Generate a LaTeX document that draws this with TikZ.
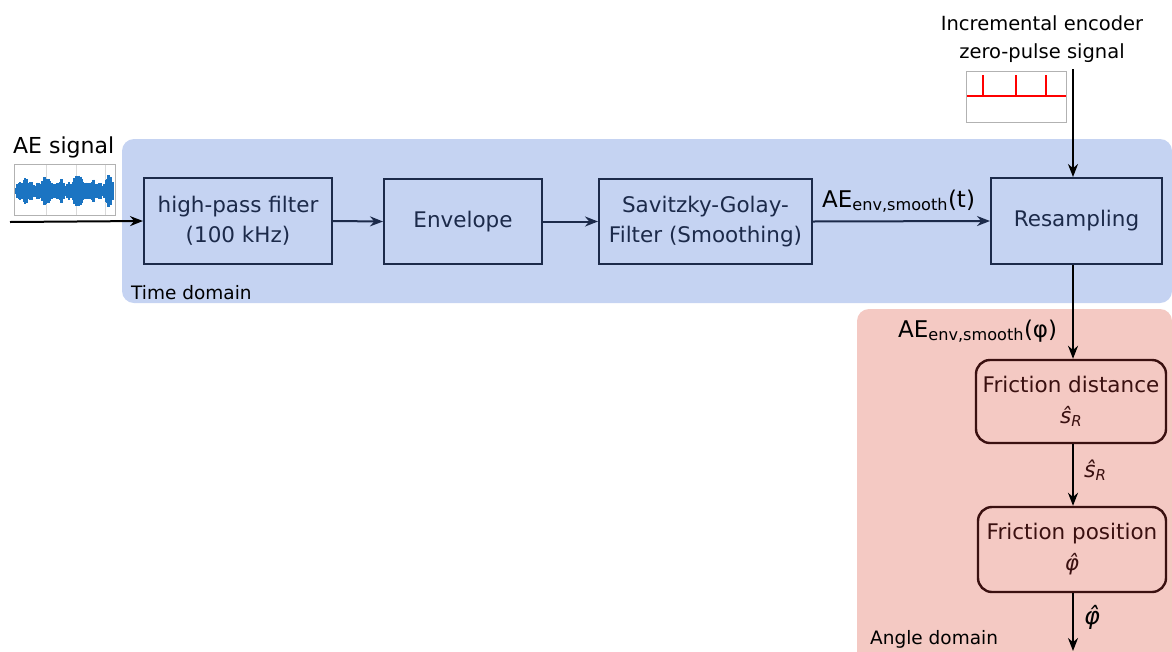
\documentclass[tikz,border=0pt]{standalone}
\usepackage{fontspec}
\setmainfont{DejaVu Sans}
\usetikzlibrary{arrows.meta}
\definecolor{tdbg}{HTML}{C5D3F2}
\definecolor{adbg}{HTML}{F4C9C3}
\definecolor{navy}{HTML}{1C2A4A}
\definecolor{brn}{HTML}{3A1010}
\definecolor{wave}{HTML}{1B74C2}
\newcommand\shat{{\itshape ŝ\raisebox{-0.3ex}{\fontsize{15}{15}\selectfont R}}}
\newcommand\phat{{\itshape φ̂}}
\tikzset{
  region/.style={rounded corners=12pt},
  tbox/.style={draw=navy, line width=2pt, text=navy, align=center, inner sep=0pt, font=\fontsize{21.5}{30}\selectfont},
  abox/.style={draw=brn, line width=2.4pt, rounded corners=14pt, text=brn, align=center, inner sep=0pt, font=\fontsize{21.5}{31}\selectfont},
  tarr/.style={draw=navy, line width=2pt, -{Stealth[length=13pt,width=10pt]}},
  aarr/.style={draw=black, line width=2pt, -{Stealth[length=13pt,width=10pt]}},
  karr/.style={draw=black, line width=2pt, -{Stealth[length=13pt,width=10pt]}},
  lbl/.style={inner sep=0pt, font=\fontsize{22}{26}\selectfont},
  dom/.style={inner sep=0pt, anchor=base west, font=\fontsize{18.5}{22}\selectfont},
}
\begin{document}
\begin{tikzpicture}[x=1pt,y=-1pt]
\useasboundingbox (0,0) rectangle (1172,651);
% regions
\fill[tdbg, region] (122,139) rectangle (1172,303);
\fill[adbg, region] (857,309) rectangle (1172,670);
\node[dom] (td) at (131,299) {Time domain};
\node[dom] (ad) at (870,644) {Angle domain};
% boxes
\node[tbox, minimum width=188pt, minimum height=86pt] (hp) at (238,221) {high-pass filter\\(100 kHz)};
\node[tbox, minimum width=158pt, minimum height=85pt] (env) at (463,221.5) {Envelope};
\node[tbox, minimum width=213pt, minimum height=85pt] (sg) at (705.5,221.5) {Savitzky-Golay-\\Filter (Smoothing)};
\node[tbox, minimum width=171pt, minimum height=86pt] (rs) at (1076.5,221) {Resampling};
\node[abox, minimum width=190pt, minimum height=83pt] (fd) at (1071,401.5) {Friction distance\\\shat};
\node[abox, minimum width=188pt, minimum height=85pt] (fp) at (1072,549.5) {Friction position\\\phat};
% AE signal
\node[lbl, anchor=base west] (aet) at (13,153) {AE signal};
\fill[white] (14,164) rectangle (115,215);
\foreach \gx in {46,76,105} \draw[gray!30, line width=0.6pt] (\gx,164) -- (\gx,215);
\foreach \i in {0,...,97}{
  \pgfmathsetmacro{\h}{2.5+3*abs(sin(\i*73))+3*abs(sin(\i*151))+7*exp(-((\i-30)/4)^2)+9*exp(-((\i-62)/5)^2)+11*exp(-((\i-93)/2.5)^2)+5*exp(-((\i-10)/4)^2)+5*exp(-((\i-45)/2)^2)+4*exp(-((\i-77)/2)^2)}
  \draw[wave, line width=1.2pt] (16+\i,191-\h) -- (16+\i,191+\h);
}
\draw[gray!60, line width=1pt] (14,164) rectangle (115,215);
\coordinate (in) at (10,222);
\draw[karr] (in) -- (hp.west);
% encoder
\node[lbl, align=center, font=\fontsize{19.5}{28}\selectfont] (enc) at (1042,39) {Incremental encoder\\zero-pulse signa{\rmfamily l}};
\fill[white] (966,71) rectangle (1066,122);
\draw[red, line width=1.6pt] (966,96) -- (1066,96);
\foreach \sx in {983,1016,1046} \draw[red, line width=1.6pt] (\sx,96) -- (\sx,75);
\draw[gray!60, line width=1pt] (966,71) rectangle (1066,122);
\coordinate (encout) at (1073,69);
\draw[karr] (encout) -- (rs.north -| encout);
% arrows
\draw[tarr] (hp.east) -- (env.west);
\draw[tarr] (env.west -| env.east) -- (sg.west);
\draw[tarr] (sg.east) -- (rs.west);
\node[lbl, anchor=base west, font=\fontsize{23}{26}\selectfont] (tl) at (822,207) {AE\textsubscript{env,smooth}(t)};
\draw[karr] (rs.south -| encout) -- (fd.north -| encout);
\node[lbl, anchor=base west, font=\fontsize{23}{26}\selectfont] (phil) at (898,337) {AE\textsubscript{env,smooth}(φ)};
\draw[aarr] (fd.south -| encout) -- (fp.north -| encout);
\node[lbl, anchor=base west, text=brn] (sl) at (1084,477) {\shat};
\coordinate (out) at (1073,651);
\draw[aarr] (fp.south -| encout) -- (out);
\node[lbl, anchor=base west, font=\fontsize{24}{26}\selectfont] (pl) at (1084,624) {\phat};
\end{tikzpicture}
\end{document}
